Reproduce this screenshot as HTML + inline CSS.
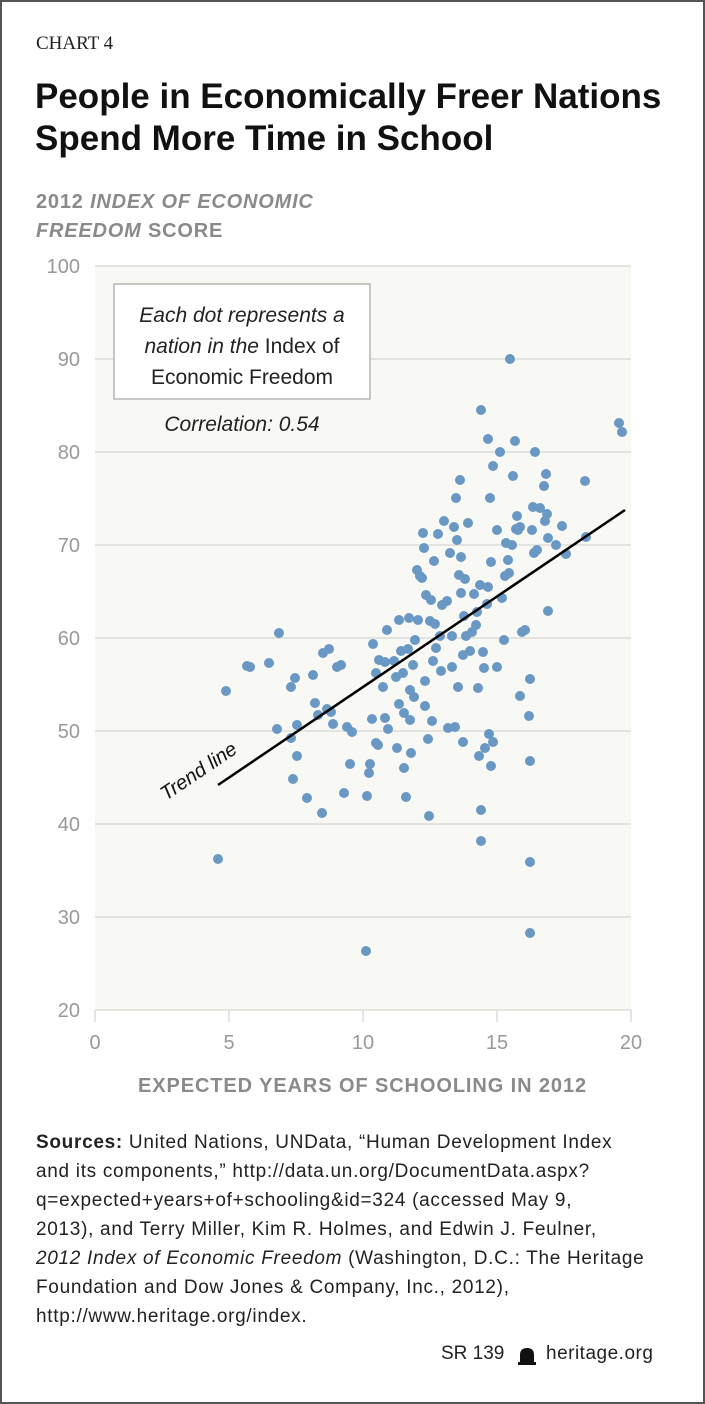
<!DOCTYPE html><html><head><style>
body{margin:0;width:705px;height:1404px;background:#fff;overflow:hidden;font-family:"Liberation Sans",sans-serif}
.frame{position:absolute;left:0;top:0;width:701px;height:1400px;border:2px solid #555}
.t{position:absolute;white-space:nowrap}
</style></head><body><div class="frame"></div>
<div class="t" style="left:36px;top:33px;font-family:'Liberation Serif',serif;font-size:19px;color:#222">CHART 4</div>
<div class="t" style="left:35px;top:76px;font-size:35px;font-weight:bold;line-height:42px;color:#111;letter-spacing:0px">People in Economically Freer Nations<br>Spend More Time in School</div>
<div class="t" style="left:36px;top:188px;font-size:20px;font-weight:bold;line-height:29px;color:#8a8a8a;letter-spacing:0.8px">2012 <i>INDEX OF ECONOMIC<br>FREEDOM</i> SCORE</div>
<svg style="position:absolute;left:0;top:0" width="705" height="1100">
<rect x="95" y="266" width="536" height="744" fill="#f8f8f4"/>
<g stroke="#d6d6d2" stroke-width="1.3">
<line x1="95" x2="631" y1="266" y2="266"/><line x1="95" x2="631" y1="359" y2="359"/><line x1="95" x2="631" y1="452" y2="452"/><line x1="95" x2="631" y1="545" y2="545"/><line x1="95" x2="631" y1="638" y2="638"/><line x1="95" x2="631" y1="731" y2="731"/><line x1="95" x2="631" y1="824" y2="824"/><line x1="95" x2="631" y1="917" y2="917"/><line x1="95" x2="631" y1="1010" y2="1010"/>
<line x1="95" x2="95" y1="1010" y2="1022"/><line x1="229" x2="229" y1="1010" y2="1022"/><line x1="363" x2="363" y1="1010" y2="1022"/><line x1="497" x2="497" y1="1010" y2="1022"/><line x1="631" x2="631" y1="1010" y2="1022"/>
</g>
<g font-size="20" fill="#999" text-anchor="end">
<text x="80" y="273">100</text><text x="80" y="366">90</text><text x="80" y="459">80</text><text x="80" y="552">70</text><text x="80" y="645">60</text><text x="80" y="738">50</text><text x="80" y="831">40</text><text x="80" y="924">30</text><text x="80" y="1017">20</text></g>
<g font-size="20" fill="#999" text-anchor="middle">
<text x="95" y="1049">0</text><text x="229" y="1049">5</text><text x="363" y="1049">10</text><text x="497" y="1049">15</text><text x="631" y="1049">20</text></g>
<rect x="114" y="284" width="256" height="115" fill="#fff" stroke="#aaa" stroke-width="1.3"/>
<g font-size="21" fill="#222" text-anchor="middle">
<text x="242" y="322"><tspan font-style="italic">Each dot represents a</tspan></text>
<text x="242" y="353"><tspan font-style="italic">nation in the</tspan> Index of</text>
<text x="242" y="384">Economic Freedom</text>
<text x="242" y="431" font-style="italic">Correlation: 0.54</text></g>
<g fill="#6a98c4">
<circle cx="218" cy="859" r="5"/><circle cx="226" cy="691" r="5"/><circle cx="247" cy="666" r="5"/><circle cx="250" cy="667" r="5"/><circle cx="269" cy="663" r="5"/><circle cx="279" cy="633" r="5"/><circle cx="277" cy="729" r="5"/><circle cx="291" cy="687" r="5"/><circle cx="295" cy="678" r="5"/><circle cx="297" cy="725" r="5"/><circle cx="291" cy="738" r="5"/><circle cx="293" cy="779" r="5"/><circle cx="297" cy="756" r="5"/><circle cx="307" cy="798" r="5"/><circle cx="313" cy="675" r="5"/><circle cx="315" cy="703" r="5"/><circle cx="318" cy="715" r="5"/><circle cx="322" cy="813" r="5"/><circle cx="323" cy="653" r="5"/><circle cx="327" cy="709" r="5"/><circle cx="329" cy="649" r="5"/><circle cx="331" cy="712" r="5"/><circle cx="333" cy="724" r="5"/><circle cx="337" cy="667" r="5"/><circle cx="341" cy="665" r="5"/><circle cx="344" cy="793" r="5"/><circle cx="347" cy="727" r="5"/><circle cx="350" cy="764" r="5"/><circle cx="352" cy="732" r="5"/><circle cx="366" cy="951" r="5"/><circle cx="367" cy="796" r="5"/><circle cx="370" cy="764" r="5"/><circle cx="369" cy="773" r="5"/><circle cx="372" cy="719" r="5"/><circle cx="373" cy="644" r="5"/><circle cx="376" cy="673" r="5"/><circle cx="376" cy="743" r="5"/><circle cx="378" cy="745" r="5"/><circle cx="379" cy="660" r="5"/><circle cx="383" cy="687" r="5"/><circle cx="385" cy="718" r="5"/><circle cx="385" cy="662" r="5"/><circle cx="387" cy="630" r="5"/><circle cx="388" cy="729" r="5"/><circle cx="394" cy="661" r="5"/><circle cx="396" cy="677" r="5"/><circle cx="397" cy="748" r="5"/><circle cx="399" cy="620" r="5"/><circle cx="399" cy="704" r="5"/><circle cx="401" cy="651" r="5"/><circle cx="403" cy="673" r="5"/><circle cx="404" cy="713" r="5"/><circle cx="404" cy="768" r="5"/><circle cx="406" cy="797" r="5"/><circle cx="408" cy="649" r="5"/><circle cx="409" cy="618" r="5"/><circle cx="410" cy="720" r="5"/><circle cx="410" cy="690" r="5"/><circle cx="411" cy="753" r="5"/><circle cx="413" cy="665" r="5"/><circle cx="414" cy="697" r="5"/><circle cx="415" cy="640" r="5"/><circle cx="417" cy="570" r="5"/><circle cx="418" cy="620" r="5"/><circle cx="420" cy="576" r="5"/><circle cx="422" cy="578" r="5"/><circle cx="423" cy="533" r="5"/><circle cx="424" cy="548" r="5"/><circle cx="425" cy="706" r="5"/><circle cx="425" cy="681" r="5"/><circle cx="426" cy="595" r="5"/><circle cx="428" cy="739" r="5"/><circle cx="429" cy="816" r="5"/><circle cx="430" cy="621" r="5"/><circle cx="431" cy="600" r="5"/><circle cx="432" cy="721" r="5"/><circle cx="433" cy="661" r="5"/><circle cx="434" cy="561" r="5"/><circle cx="435" cy="624" r="5"/><circle cx="436" cy="648" r="5"/><circle cx="438" cy="534" r="5"/><circle cx="440" cy="636" r="5"/><circle cx="441" cy="671" r="5"/><circle cx="442" cy="605" r="5"/><circle cx="444" cy="521" r="5"/><circle cx="447" cy="601" r="5"/><circle cx="448" cy="728" r="5"/><circle cx="450" cy="553" r="5"/><circle cx="452" cy="667" r="5"/><circle cx="452" cy="636" r="5"/><circle cx="454" cy="527" r="5"/><circle cx="455" cy="727" r="5"/><circle cx="456" cy="498" r="5"/><circle cx="457" cy="540" r="5"/><circle cx="458" cy="687" r="5"/><circle cx="459" cy="575" r="5"/><circle cx="460" cy="480" r="5"/><circle cx="461" cy="557" r="5"/><circle cx="461" cy="593" r="5"/><circle cx="463" cy="742" r="5"/><circle cx="463" cy="655" r="5"/><circle cx="464" cy="616" r="5"/><circle cx="465" cy="579" r="5"/><circle cx="466" cy="636" r="5"/><circle cx="468" cy="523" r="5"/><circle cx="470" cy="651" r="5"/><circle cx="472" cy="632" r="5"/><circle cx="474" cy="594" r="5"/><circle cx="476" cy="625" r="5"/><circle cx="477" cy="612" r="5"/><circle cx="478" cy="688" r="5"/><circle cx="479" cy="756" r="5"/><circle cx="480" cy="585" r="5"/><circle cx="481" cy="810" r="5"/><circle cx="481" cy="841" r="5"/><circle cx="481" cy="410" r="5"/><circle cx="483" cy="652" r="5"/><circle cx="484" cy="668" r="5"/><circle cx="485" cy="748" r="5"/><circle cx="487" cy="604" r="5"/><circle cx="488" cy="587" r="5"/><circle cx="489" cy="734" r="5"/><circle cx="490" cy="498" r="5"/><circle cx="491" cy="562" r="5"/><circle cx="493" cy="742" r="5"/><circle cx="491" cy="766" r="5"/><circle cx="497" cy="667" r="5"/><circle cx="488" cy="439" r="5"/><circle cx="500" cy="452" r="5"/><circle cx="497" cy="530" r="5"/><circle cx="502" cy="598" r="5"/><circle cx="504" cy="640" r="5"/><circle cx="505" cy="576" r="5"/><circle cx="506" cy="543" r="5"/><circle cx="508" cy="560" r="5"/><circle cx="509" cy="573" r="5"/><circle cx="510" cy="359" r="5"/><circle cx="512" cy="545" r="5"/><circle cx="515" cy="441" r="5"/><circle cx="513" cy="476" r="5"/><circle cx="516" cy="529" r="5"/><circle cx="517" cy="516" r="5"/><circle cx="518" cy="530" r="5"/><circle cx="520" cy="527" r="5"/><circle cx="520" cy="696" r="5"/><circle cx="522" cy="632" r="5"/><circle cx="525" cy="630" r="5"/><circle cx="529" cy="716" r="5"/><circle cx="530" cy="679" r="5"/><circle cx="530" cy="761" r="5"/><circle cx="530" cy="862" r="5"/><circle cx="530" cy="933" r="5"/><circle cx="532" cy="530" r="5"/><circle cx="533" cy="507" r="5"/><circle cx="534" cy="553" r="5"/><circle cx="535" cy="452" r="5"/><circle cx="537" cy="550" r="5"/><circle cx="540" cy="508" r="5"/><circle cx="544" cy="486" r="5"/><circle cx="545" cy="521" r="5"/><circle cx="547" cy="514" r="5"/><circle cx="548" cy="538" r="5"/><circle cx="548" cy="611" r="5"/><circle cx="556" cy="545" r="5"/><circle cx="562" cy="526" r="5"/><circle cx="566" cy="554" r="5"/><circle cx="585" cy="481" r="5"/><circle cx="586" cy="537" r="5"/><circle cx="619" cy="423" r="5"/><circle cx="622" cy="432" r="5"/><circle cx="493" cy="466" r="5"/><circle cx="546" cy="474" r="5"/>
</g>
<line x1="218" y1="785" x2="625" y2="510" stroke="#000" stroke-width="2.5"/>
<text x="0" y="0" font-size="20" fill="#111" font-style="italic" transform="translate(166,801) rotate(-34)">Trend line</text>
</svg>
<div class="t" style="left:0;width:725px;text-align:center;top:1075px;font-size:20px;font-weight:bold;color:#8a8a8a;letter-spacing:0.9px">EXPECTED YEARS OF SCHOOLING IN 2012</div>
<div class="t" style="left:36px;top:1128px;font-size:19px;line-height:29px;color:#222;letter-spacing:0.7px"><b>Sources:</b> United Nations, UNData, “Human Development Index<br>and its components,” http://data.un.org/DocumentData.aspx?<br>q=expected+years+of+schooling&amp;id=324 (accessed May 9,<br>2013), and Terry Miller, Kim R. Holmes, and Edwin J. Feulner,<br><i>2012 Index of Economic Freedom</i> (Washington, D.C.: The Heritage<br>Foundation and Dow Jones &amp; Company, Inc., 2012),<br>http://www.heritage.org/index.</div>
<div class="t" style="left:441px;top:1343px;font-size:19px;color:#222">SR 139</div>
<svg style="position:absolute;left:517px;top:1346px" width="20" height="20"><path d="M3 18 L3 9 Q3 2 10 2 Q17 2 17 9 L17 18 Z" fill="#111"/><rect x="1" y="16" width="18" height="3" fill="#111"/></svg>
<div class="t" style="left:546px;top:1343px;font-size:19px;color:#222;letter-spacing:0.5px">heritage.org</div>
</body></html>
